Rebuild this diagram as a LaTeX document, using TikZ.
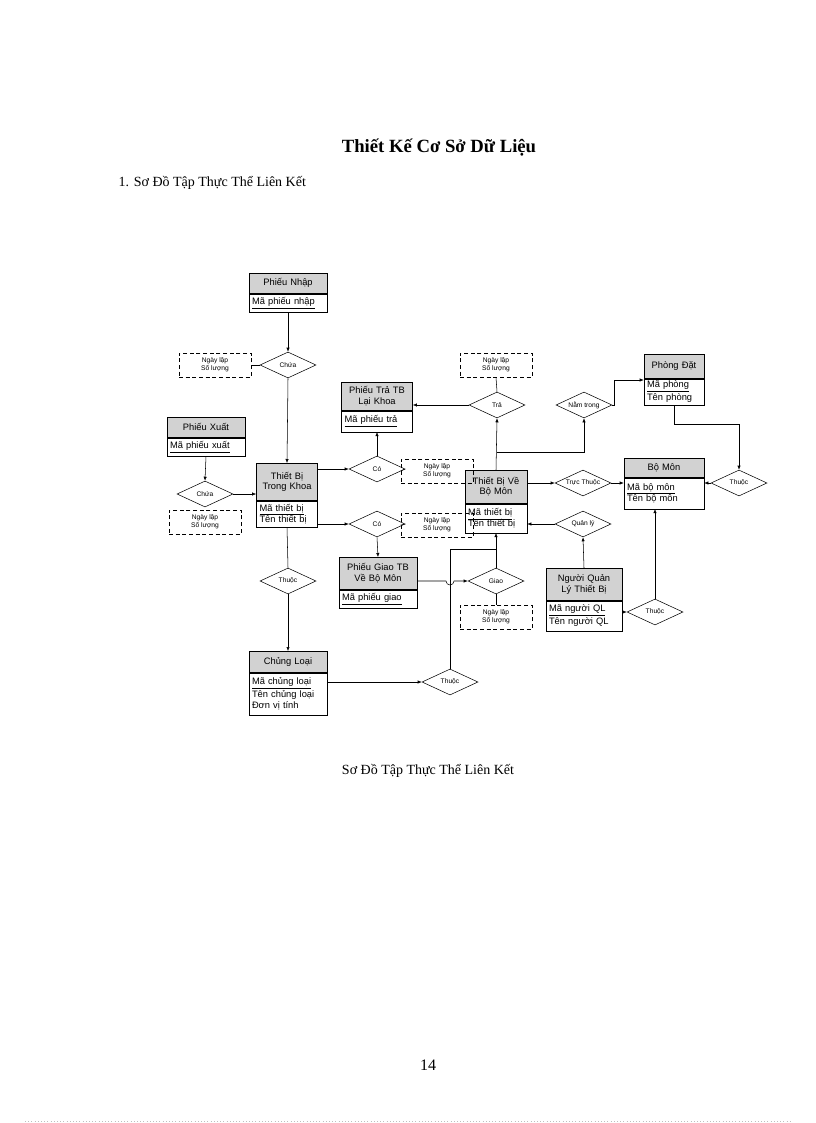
\documentclass[tikz,border=0pt]{standalone}
\usepackage{fontspec}
\setmainfont{Liberation Serif}
\newfontfamily\arial{Liberation Sans}
\usetikzlibrary{shapes.geometric,arrows.meta}
\begin{document}
\begin{tikzpicture}[x=0.75pt,y=-0.75pt,
 hdr/.style={draw,fill=gray!35,inner sep=1pt,align=center,font=\arial\fontsize{7}{8}\selectfont},
 bdy/.style={draw,fill=white,inner sep=1pt,align=left,font=\arial\fontsize{7}{8.5}\selectfont},
 rel/.style={draw,diamond,aspect=2.15,inner sep=0pt,minimum width=42pt,minimum height=19.5pt,fill=white,font=\arial\fontsize{5}{6}\selectfont},
 attr/.style={draw,dashed,dash pattern=on 3pt off 2pt,minimum width=54pt,minimum height=18pt,inner sep=0pt,align=center,font=\arial\fontsize{5}{6}\selectfont},
 ar/.style={-{Latex[length=3pt,width=2.5pt]}},
 ln/.style={}]
\useasboundingbox (0,0) rectangle (816,1123);
\newcommand\ent[8]{%
 \node[hdr,minimum width=#4*0.75pt,text width=(#4-4)*0.75pt,minimum height=#5*0.75pt,anchor=north] (#1h) at (#2,#3) {#7};
 \node[bdy,minimum width=#4*0.75pt,text width=(#4-6)*0.75pt,minimum height=#6*0.75pt,anchor=north] (#1b) at (#1h.south) {#8};}
\node[font=\bfseries\fontsize{14}{16}\selectfont] (title) at (439,148) {Thiết Kế Cơ Sở Dữ Liệu};
\node[anchor=west,font=\fontsize{10.5}{12}\selectfont] (sub) at (114,183) {1. Sơ Đồ Tập Thực Thể Liên Kết};
\node[font=\fontsize{10.5}{12}\selectfont] (cap) at (428,771) {Sơ Đồ Tập Thực Thể Liên Kết};
\node[font=\fontsize{12}{14}\selectfont] (pg) at (428,1065) {14};
\draw[gray!50,dotted] (25,1121) -- (790,1121);
% entities
\ent{pn}{288}{273}{78}{20}{18}{Phiếu Nhập}{\underline{Mã phiếu nhập}}
\ent{px}{206}{417}{78}{20}{18}{Phiếu Xuất}{\underline{Mã phiếu xuất}}
\ent{tk}{287}{463}{61}{37}{26}{Thiết Bị\\Trong Khoa}{\underline{Mã thiết bị}\\Tên thiết bị}
\ent{pt}{377}{382}{71}{28}{21}{Phiếu Trả TB\\Lại Khoa}{\underline{Mã phiếu trả}}
\ent{tv}{496}{470}{62}{33}{29}{Thiết Bị Về\\Bộ Môn}{\underline{Mã thiết bị}\\Tên thiết bị}
\ent{pd}{674}{354}{60}{24}{26}{Phòng Đặt}{\underline{Mã phòng}\\Tên phòng}
\ent{bm}{664}{458}{80}{19}{31}{Bộ Môn}{\underline{Mã bộ môn}\\Tên bộ môn}
\ent{nq}{584}{568}{76}{32}{30}{Người Quản\\Lý Thiết Bị}{\underline{Mã người QL}\\Tên người QL}
\ent{pg}{378}{557}{78}{32}{18}{Phiếu Giao TB\\Về Bộ Môn}{\underline{Mã phiếu giao}}
\ent{cl}{288}{651}{78}{21}{42}{Chủng Loại}{\underline{Mã chủng loại}\\Tên chủng loại\\Đơn vị tính}
% relationships
\node[rel] (ch1) at (288,365) {Chứa};
\node[rel] (ch2) at (205,494) {Chứa};
\node[rel] (co1) at (377,469) {Có};
\node[rel] (co2) at (377,524) {Có};
\node[rel] (th1) at (288,581) {Thuộc};
\node[rel] (tra) at (497,405) {Trả};
\node[rel] (nam) at (584,405) {Nằm trong};
\node[rel] (tt) at (583,483) {Trực Thuộc};
\node[rel] (ql) at (583,524) {Quản lý};
\node[rel] (gi) at (496,581) {Giao};
\node[rel] (th2) at (739,483) {Thuộc};
\node[rel] (th3) at (655,612) {Thuộc};
\node[rel] (th4) at (450,682) {Thuộc};
% attributes
\node[attr] (a1) at (215,365) {Ngày lập\\Số lượng};
\node[attr] (a2) at (205,522) {Ngày lập\\Số lượng};
\node[attr] (a3) at (437,471) {Ngày lập\\Số lượng};
\node[attr] (a4) at (437,525) {Ngày lập\\Số lượng};
\node[attr] (a5) at (496,365) {Ngày lập\\Số lượng};
\node[attr] (a6) at (496,617) {Ngày lập\\Số lượng};
% connectors
\draw[ar] (pnb.south) -- (ch1.north);
\draw[ar] (ch1.south) -- (tkh.north);
\draw (a1.east) -- (ch1.west);
\draw[ar] (pxb.south) -- (ch2.north);
\draw[ar] (ch2.east) -- (tkh.west |- ch2.east);
\draw[ar] (tkh.east |- co1.west) -- (co1.west);
\draw[ar] (co1.north) -- (ptb.south);
\draw (co1.east) -- (a3.west);
\draw[ar] (tkb.east |- co2.west) -- (co2.west);
\draw[ar] (co2.south) -- (pgh.north);
\draw (co2.east) -- (a4.west);
\draw (tkb.south) -- (th1.north);
\draw[ar] (th1.south) -- (clh.north);
\draw[ar] (clb.east |- th4.west) -- (th4.west);
\coordinate (k1) at (450,549);
\draw (th4.north) -- (k1) -- (tvb.south |- k1);
\draw[ar] (gi.north) -- (tvb.south);
\draw[ar] (pgh.east |- gi.west) -- (446,581) arc[start angle=180,end angle=0,radius=4] -- (gi.west);
\draw (gi.south) -- (a6.north);
\draw[ar] (tvh.north) -- (tra.south);
\draw[ar] (tra.west) -- (pth.east |- tra.west);
\draw (tra.north) -- (a5.south);
\coordinate (k2) at (497,452);
\draw[ar] (k2) -| (nam.south);
\coordinate (k3) at (614,380);
\draw[ar] (nam.east) -| (k3) -- (pdb.west |- k3);
\coordinate (k4) at (674,424);
\draw[ar] (pdb.south) -- (k4) -| (th2.north);
\draw[ar] (th2.west) -- (bmb.east |- th2.west);
\draw[ar] (tvh.east |- tt.west) -- (tt.west);
\draw[ar] (tt.east) -- (bmb.west |- tt.east);
\draw[ar] (ql.west) -- (tvb.east |- ql.west);
\draw[ar] (nqh.north) -- (ql.south);
\draw[ar] (nqb.east |- th3.west) -- (th3.west);
\draw[ar] (th3.north) -- (th3.north |- bmb.south);
\end{tikzpicture}
\end{document}
